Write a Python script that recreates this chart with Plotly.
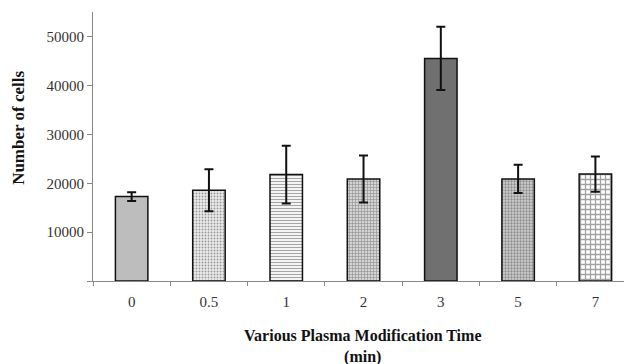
import plotly.graph_objects as go

categories = ["0", "0.5", "1", "2", "3", "5", "7"]
cells = [17300, 18600, 21800, 20900, 45600, 20900, 21900]
errors = [900, 4300, 5900, 4800, 6500, 2900, 3600]
y_ticks = [0, 10000, 20000, 30000, 40000, 50000]
y_tick_labels = ["", "10000", "20000", "30000", "40000", "50000"]

shapes = ["", ".", "-", "+", "", ".", "+"]
bg = ["#bdbdbd", "#ebebeb", "#f4f4f4", "#d4d4d4", "#707070", "#d0d0d0", "#ffffff"]
fg = ["#bdbdbd", "#d6d6d6", "#c2c2c2", "#bababa", "#707070", "#959595", "#c6c6c6"]
psize = [6, 3, 3, 3, 6, 3, 5]
solid = [0.3, 0.3, 0.3, 0.35, 0.3, 0.45, 0.45]

FONT = "Liberation Serif"

fig = go.Figure()
fig.add_trace(go.Bar(
    x=categories, y=cells, width=0.42,
    marker=dict(color=bg, line=dict(color="#111111", width=1.5),
                pattern=dict(shape=shapes, fgcolor=fg, size=psize,
                             solidity=solid, fillmode="overlay")),
    error_y=dict(type="data", array=errors, visible=True, color="#111111",
                 thickness=2, width=4.5),
    showlegend=False,
))

fig.update_layout(
    width=624, height=364,
    margin=dict(l=93, r=0, t=12, b=83),
    plot_bgcolor="white", paper_bgcolor="white",
    font=dict(family=FONT, size=15, color="#333333"),
    xaxis=dict(type="category", range=[-0.5, 6.37], showline=True, linecolor="#888888",
               linewidth=1.2, ticks="outside", tickson="boundaries", ticklen=4,
               tickcolor="#888888", showgrid=False, ticklabelstandoff=7,
               tickfont=dict(size=15, family=FONT)),
    yaxis=dict(range=[0, 55100], showline=True, linecolor="#888888", linewidth=1.2,
               ticks="outside", ticklen=5, tickcolor="#888888", tickvals=y_ticks,
               ticktext=y_tick_labels, showgrid=False, zeroline=False,
               tickfont=dict(size=15, family=FONT)),
    annotations=[
        dict(text="<b>Various Plasma Modification Time<br>(min)</b>", xref="paper", yref="paper",
             x=0.509, y=-0.165, xanchor="center", yanchor="top", showarrow=False,
             font=dict(size=16, family=FONT, color="#111111")),
        dict(text="<b>Number of cells</b>", xref="paper", yref="paper", textangle=-90,
             x=-0.14, y=0.568, xanchor="center", yanchor="middle", showarrow=False,
             font=dict(size=17, family=FONT, color="#111111")),
    ],
)

fig.write_html("out.html")
